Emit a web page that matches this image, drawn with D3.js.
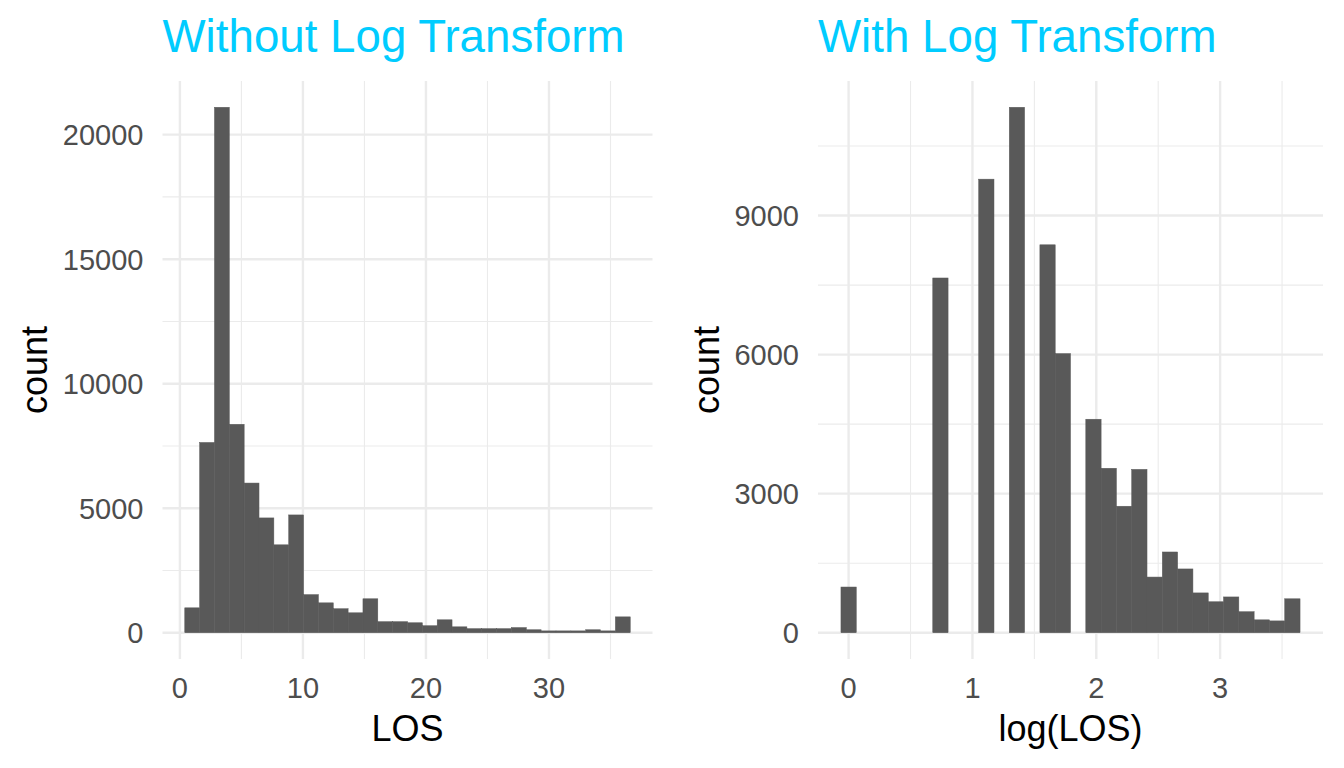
<!DOCTYPE html>
<html>
<head>
<meta charset="utf-8">
<script src="https://cdn.jsdelivr.net/npm/d3@7"></script>
<style>
  body { margin: 0; background: #fff; }
  text { font-family: "Liberation Sans", Arial, sans-serif; }
</style>
</head>
<body>
<div id="chart"></div>
<script>
// histogram counts (30 bins each)
var losCounts = [1000, 7640, 21100, 8370, 6010, 4610, 3530, 4730, 1530, 1200,
                 963, 800, 1363, 444, 444, 400, 281, 519, 237, 163,
                 163, 163, 207, 119, 74, 74, 74, 119, 74, 637];
var logCounts = [986, 0, 0, 0, 0, 0, 7653, 0, 0, 9785,
                 0, 11336, 0, 8369, 6022, 0, 4606, 3548, 2729, 3524,
                 1201, 1742, 1376, 859, 668, 772, 453, 278, 255, 732];

// range of the raw variable (bins centred on min .. max)
var losMin = 1, losMax = 36;
var logMin = 0, logMax = Math.log(36);

var losTicks = [0, 10, 20, 30];
var losMinor = [5, 15, 25, 35];
var logTicks = [0, 1, 2, 3];
var logMinor = [0.5, 1.5, 2.5, 3.5];
var losYTicks = [0, 5000, 10000, 15000, 20000];
var losYMinor = [2500, 7500, 12500, 17500];
var logYTicks = [0, 3000, 6000, 9000];
var logYMinor = [1500, 4500, 7500, 10500];

var width = 1344, height = 768;

var svg = d3.select("#chart").append("svg")
    .attr("width", width)
    .attr("height", height);

function panel(opt) {
  var n = opt.counts.length;
  var bw = (opt.max - opt.min) / (n - 1);
  var bins = opt.counts.map(function(c, i) {
    var mid = opt.min + i * bw;
    return {x0: mid - bw / 2, x1: mid + bw / 2, count: c};
  });

  // ggplot style 5% expansion
  var lo = bins[0].x0, hi = bins[n - 1].x1;
  var ex = (hi - lo) * 0.05;
  var x = d3.scaleLinear().domain([lo - ex, hi + ex]).range([opt.left, opt.right]);
  var ymax = d3.max(opt.counts);
  var y = d3.scaleLinear().domain([-ymax * 0.05, ymax * 1.05]).range([opt.bottom, opt.top]);

  var g = svg.append("g");

  // minor grid
  g.selectAll(".hminor").data(opt.yMinor).enter().append("line")
    .attr("x1", opt.left).attr("x2", opt.right)
    .attr("y1", function(d) { return y(d); }).attr("y2", function(d) { return y(d); })
    .style("stroke", "#ebebeb").style("stroke-width", 1.1);
  g.selectAll(".vminor").data(opt.xMinor).enter().append("line")
    .attr("y1", opt.top).attr("y2", opt.bottom)
    .attr("x1", function(d) { return x(d); }).attr("x2", function(d) { return x(d); })
    .style("stroke", "#ebebeb").style("stroke-width", 1.1);
  // major grid
  g.selectAll(".hmajor").data(opt.yTicks).enter().append("line")
    .attr("x1", opt.left).attr("x2", opt.right)
    .attr("y1", function(d) { return y(d); }).attr("y2", function(d) { return y(d); })
    .style("stroke", "#ebebeb").style("stroke-width", 2.4);
  g.selectAll(".vmajor").data(opt.xTicks).enter().append("line")
    .attr("y1", opt.top).attr("y2", opt.bottom)
    .attr("x1", function(d) { return x(d); }).attr("x2", function(d) { return x(d); })
    .style("stroke", "#ebebeb").style("stroke-width", 2.4);

  // bars (thin same-colour stroke hides seams between neighbours)
  g.selectAll(".bar").data(bins.filter(function(d) { return d.count > 0; }))
    .enter().append("rect")
    .attr("x", function(d) { return x(d.x0); })
    .attr("width", function(d) { return x(d.x1) - x(d.x0); })
    .attr("y", function(d) { return y(d.count); })
    .attr("height", function(d) { return y(0) - y(d.count); })
    .style("fill", "#595959")
    .style("stroke", "#595959")
    .style("stroke-width", 0.5);

  // tick labels
  g.selectAll(".ytick").data(opt.yTicks).enter().append("text")
    .attr("x", opt.left - 19)
    .attr("y", function(d) { return y(d); })
    .attr("dy", "0.36em")
    .attr("text-anchor", "end")
    .style("font-size", "29px").style("fill", "#4d4d4d")
    .text(function(d) { return d; });
  g.selectAll(".xtick").data(opt.xTicks).enter().append("text")
    .attr("x", function(d) { return x(d); })
    .attr("y", 698)
    .attr("text-anchor", "middle")
    .style("font-size", "29px").style("fill", "#4d4d4d")
    .text(function(d) { return d; });

  // axis titles
  g.append("text")
    .attr("x", (opt.left + opt.right) / 2)
    .attr("y", 741)
    .attr("text-anchor", "middle")
    .style("font-size", "36px").style("fill", "#000")
    .text(opt.xTitle);
  g.append("text")
    .attr("transform", "translate(" + opt.yTitleX + "," + (opt.top + opt.bottom) / 2 + ") rotate(-90)")
    .attr("text-anchor", "middle")
    .style("font-size", "36px").style("fill", "#000")
    .text("count");

  // title
  g.append("text")
    .attr("x", opt.left)
    .attr("y", 52)
    .style("font-size", "45.7px").style("fill", "#00ccff")
    .text(opt.title);
}

panel({
  counts: losCounts, min: losMin, max: losMax,
  left: 162.5, right: 652.5, top: 81, bottom: 659,
  xTicks: losTicks, xMinor: losMinor, yTicks: losYTicks, yMinor: losYMinor,
  xTitle: "LOS", yTitleX: 47, title: "Without Log Transform"
});

panel({
  counts: logCounts, min: logMin, max: logMax,
  left: 818, right: 1323, top: 81, bottom: 659,
  xTicks: logTicks, xMinor: logMinor, yTicks: logYTicks, yMinor: logYMinor,
  xTitle: "log(LOS)", yTitleX: 719, title: "With Log Transform"
});
</script>
</body>
</html>
